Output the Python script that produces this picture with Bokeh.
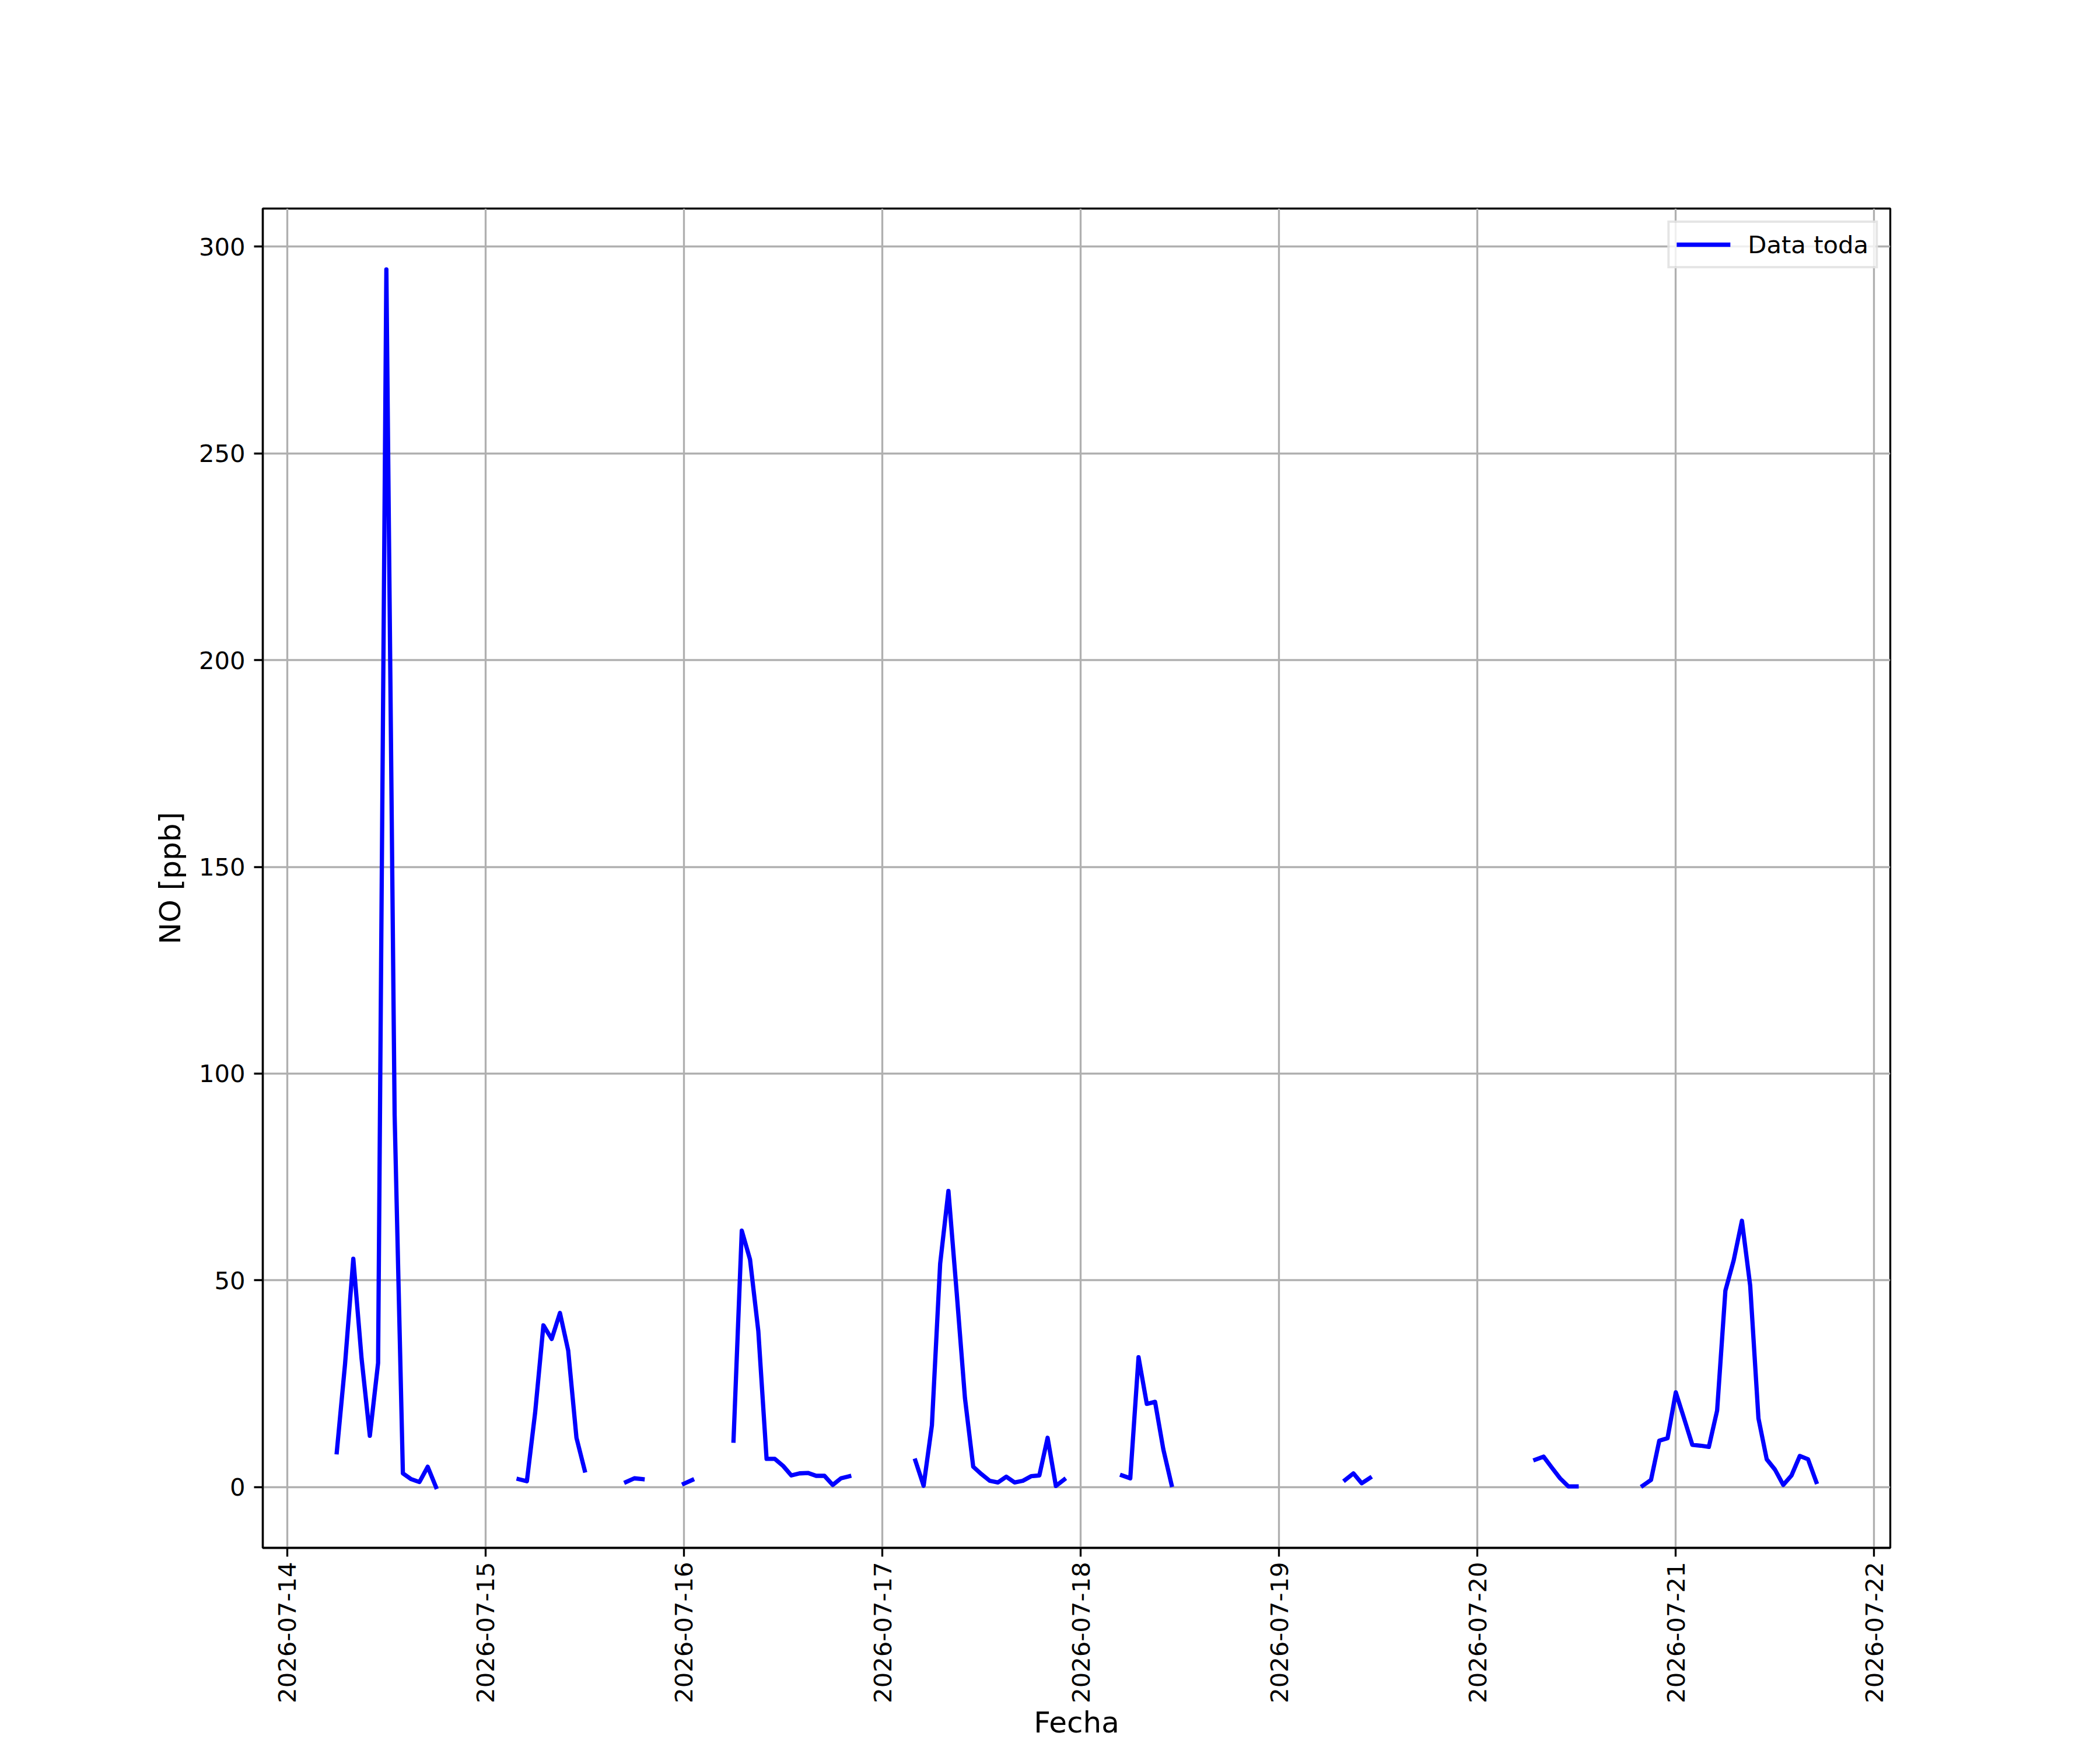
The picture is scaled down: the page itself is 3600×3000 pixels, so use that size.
import math
import pandas as pd
from bokeh.plotting import figure
from bokeh.models import FixedTicker, DatetimeTickFormatter, Range1d, ColumnDataSource
from bokeh.embed import file_html
from bokeh.resources import INLINE

N = float("nan")

# Hourly NO values [ppb], one list per day (00:00 .. 23:00), NaN = missing
day_14 = [N, N, N, N, N, N, 8.4, 29.7, 55.2, 31.1, 12.4, 30.0,
          294.5, 90.0, 3.3, 1.9, 1.2, 4.9, 0.0, N, N, N, N, N]
day_15 = [N, N, N, N, 1.9, 1.4, 18.0, 39.1, 35.8, 42.1, 33.0, 11.9,
          4.0, N, N, N, N, 1.2, 2.1, 1.9, N, N, N, N]
day_16 = [0.8, 1.7, N, N, N, N, 11.2, 62.0, 55.0, 37.7, 6.8, 6.8,
          5.1, 2.8, 3.3, 3.4, 2.7, 2.7, 0.5, 2.1, 2.6, N, N, N]
day_17 = [N, N, N, N, 6.4, 0.3, 14.9, 54.0, 71.6, 47.0, 21.5, 4.9,
          3.1, 1.5, 1.1, 2.5, 1.1, 1.5, 2.6, 2.8, 11.9, 0.25, 1.8, N]
day_18 = [N, N, N, N, N, 2.8, 2.1, 31.4, 20.1, 20.6, 9.1, 0.5,
          N, N, N, N, N, N, N, N, N, N, N, N]
day_19 = [N, N, N, N, N, N, N, N, 1.7, 3.3, 0.9, 2.2,
          N, N, N, N, N, N, N, N, N, N, N, N]
day_20 = [N, N, N, N, N, N, N, 6.6, 7.35, 4.7, 2.1, 0.15,
          0.15, N, N, N, N, N, N, N, 0.3, 1.7, 11.2, 11.8]
day_21 = [22.9, 16.6, 10.2, 10.0, 9.7, 18.5, 47.5, 54.8, 64.4, 48.7, 16.6, 6.7,
          4.2, 0.5, 2.8, 7.5, 6.7, 1.2, N, N, N, N, N, N]

series_start = "2026-07-14 00:00"
x_tick_labels = ["2026-07-14", "2026-07-15", "2026-07-16", "2026-07-17", "2026-07-18",
                 "2026-07-19", "2026-07-20", "2026-07-21", "2026-07-22"]
y_ticks = [0, 50, 100, 150, 200, 250, 300]
legend_text = "Data toda"
x_title = "Fecha"
y_title = "NO [ppb]"

values = day_14 + day_15 + day_16 + day_17 + day_18 + day_19 + day_20 + day_21
times = pd.date_range(start=series_start, periods=len(values), freq="h")
s = pd.Series(values, index=times)
valid = s.dropna()

def to_ms(ts):
    return pd.Timestamp(ts).value / 1e6

tmin, tmax = to_ms(valid.index.min()), to_ms(valid.index.max())
tpad = (tmax - tmin) * 0.05
vmin, vmax = valid.min(), valid.max()
vpad = (vmax - vmin) * 0.05

src = ColumnDataSource(dict(t=[to_ms(t) for t in times], v=values))

p = figure(width=3584, height=2984, x_axis_type="datetime",
           output_backend="svg", toolbar_location=None,
           x_range=Range1d(tmin - tpad, tmax + tpad),
           y_range=Range1d(vmin - vpad, vmax + vpad),
           min_border_left=450, min_border_right=344,
           min_border_top=357, min_border_bottom=300)
p.background_fill_color = "white"
p.border_fill_color = "white"
p.outline_line_color = "black"
p.outline_line_width = 3.33

p.line(x="t", y="v", source=src, line_color="#0000ff", line_width=7.3,
       line_join="round", line_cap="square", legend_label=legend_text)

p.xaxis.ticker = FixedTicker(ticks=[to_ms(d) for d in x_tick_labels])
fmt = "%Y-%m-%d"
p.xaxis.formatter = DatetimeTickFormatter(days=fmt, months=fmt, hours=fmt, years=fmt,
                                          hourmin=fmt, minutes=fmt, minsec=fmt,
                                          seconds=fmt, milliseconds=fmt, microseconds=fmt)
p.xaxis.major_label_orientation = math.pi / 2
p.yaxis.ticker = FixedTicker(ticks=y_ticks)
p.xaxis.axis_label = x_title
p.yaxis.axis_label = y_title

for ax in (p.xaxis, p.yaxis):
    ax.axis_line_color = "black"
    ax.axis_line_width = 3.33
    ax.major_tick_line_color = "black"
    ax.major_tick_line_width = 3.33
    ax.major_tick_out = 15
    ax.major_tick_in = 0
    ax.minor_tick_out = 0
    ax.minor_tick_in = 0
    ax.major_label_text_font = "DejaVu Sans"
    ax.major_label_text_font_size = "41.7px"
    ax.major_label_text_color = "black"
    ax.axis_label_text_font = "DejaVu Sans"
    ax.axis_label_text_font_size = "50px"
    ax.axis_label_text_font_style = "normal"
    ax.axis_label_text_color = "black"

p.yaxis.major_label_standoff = 15
p.yaxis.axis_label_standoff = 17
p.xaxis.major_label_standoff = 9
p.xaxis.axis_label_standoff = 1

for g in (p.xgrid, p.ygrid):
    g.grid_line_color = "#b0b0b0"
    g.grid_line_width = 3.33

lg = p.legend[0]
lg.location = "top_right"
lg.margin = 21
lg.padding = 12
lg.spacing = 0
lg.glyph_width = 92
lg.glyph_height = 50
lg.label_height = 50
lg.label_standoff = 30
lg.label_text_font = "DejaVu Sans"
lg.label_text_font_size = "41.7px"
lg.label_text_color = "black"
lg.border_line_color = "#cccccc"
lg.border_line_width = 4
lg.background_fill_color = "white"
lg.background_fill_alpha = 0.8

open("out.html", "w").write(file_html(p, INLINE))
